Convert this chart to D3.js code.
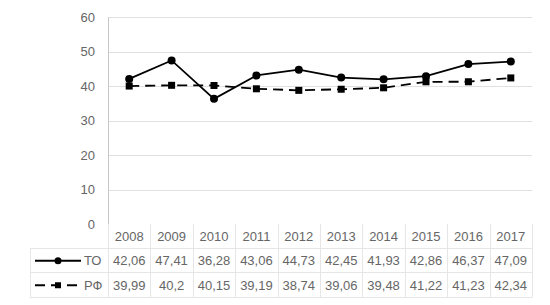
<!DOCTYPE html>
<html lang="ru">
<head>
<meta charset="UTF-8">
<title>ТО и РФ</title>
<script src="https://cdn.jsdelivr.net/npm/d3@7/dist/d3.min.js"></script>
<style>
    body { margin: 0; background: #fff; }
    text { font-family: "Liberation Sans", Arial, sans-serif; fill: #666; }
    .grid line { stroke: #e0e0e0; stroke-width: 1px; }
    .tbl line { stroke: #e6e6e6; stroke-width: 1px; }
</style>
</head>
<body>
<svg width="550" height="305"></svg>
<script>
    var years = ['2008', '2009', '2010', '2011', '2012', '2013', '2014', '2015', '2016', '2017'];
    var toValues = [42.06, 47.41, 36.28, 43.06, 44.73, 42.45, 41.93, 42.86, 46.37, 47.09];
    var rfValues = [39.99, 40.2, 40.15, 39.19, 38.74, 39.06, 39.48, 41.22, 41.23, 42.34];
    var seriesNames = ['ТО', 'РФ'];
    var yTicks = [0, 10, 20, 30, 40, 50, 60];

    var svg = d3.select('svg'),
        margin = { top: 17, left: 108, right: 18 },
        plotRight = 550 - margin.right,
        plotBottom = 224,
        tableLeft = 30,
        rowH = 24.5;

    var xScale = d3.scaleBand().domain(years).range([margin.left, plotRight]),
        yScale = d3.scaleLinear().domain([0, 60]).range([plotBottom, margin.top]);

    var fmt = function(v) { return String(v).replace('.', ','); };

    // gridlines
    svg.append('g').classed('grid', true)
        .selectAll('line').data(yTicks.filter(function(d) { return d > 0; }))
        .enter().append('line')
        .attr('x1', margin.left).attr('x2', plotRight)
        .attr('y1', function(d) { return Math.round(yScale(d)) + 0.5; })
        .attr('y2', function(d) { return Math.round(yScale(d)) + 0.5; });

    // y axis line
    svg.append('line')
        .attr('x1', margin.left + 0.5).attr('x2', margin.left + 0.5)
        .attr('y1', margin.top).attr('y2', plotBottom)
        .attr('stroke', '#c8c8c8');

    svg.append('g').selectAll('text').data(yTicks).enter().append('text')
        .attr('x', margin.left - 13)
        .attr('y', function(d) { return yScale(d); })
        .attr('dy', '0.35em')
        .attr('text-anchor', 'end')
        .style('font-size', '13px')
        .text(function(d) { return d; });

    // data table
    var tbl = svg.append('g').classed('tbl', true);
    var rowsY = [plotBottom, plotBottom + rowH, plotBottom + 2 * rowH, plotBottom + 3 * rowH];
    [1, 2, 3].forEach(function(i) {
        tbl.append('line')
            .attr('x1', tableLeft).attr('x2', plotRight)
            .attr('y1', Math.round(rowsY[i]) - 0.5).attr('y2', Math.round(rowsY[i]) - 0.5);
    });
    years.concat(['end']).forEach(function(y, i) {
        var x = i < years.length ? xScale(y) : plotRight;
        tbl.append('line')
            .attr('x1', Math.round(x) + 0.5).attr('x2', Math.round(x) + 0.5)
            .attr('y1', plotBottom).attr('y2', rowsY[3]);
    });
    tbl.append('line')
        .attr('x1', tableLeft + 0.5).attr('x2', tableLeft + 0.5)
        .attr('y1', rowsY[1]).attr('y2', rowsY[3]);

    var cellText = function(rowIdx, values) {
        svg.append('g').selectAll('text').data(values).enter().append('text')
            .attr('x', function(d, i) { return xScale(years[i]) + xScale.bandwidth() / 2; })
            .attr('y', rowsY[rowIdx] + rowH / 2)
            .attr('dy', '0.35em')
            .attr('text-anchor', 'middle')
            .style('font-size', '13px')
            .text(function(d) { return rowIdx === 0 ? d : fmt(d); });
    };
    cellText(0, years);
    cellText(1, toValues);
    cellText(2, rfValues);

    // lines
    var line = d3.line()
        .x(function(d, i) { return xScale(years[i]) + xScale.bandwidth() / 2; })
        .y(function(d) { return yScale(d); });

    svg.append('path').datum(rfValues)
        .attr('d', line)
        .attr('fill', 'none').attr('stroke', '#000').attr('stroke-width', 1.8)
        .attr('stroke-dasharray', '10,6');
    svg.append('path').datum(toValues)
        .attr('d', line)
        .attr('fill', 'none').attr('stroke', '#000').attr('stroke-width', 1.8);

    svg.append('g').selectAll('rect').data(rfValues).enter().append('rect')
        .attr('x', function(d, i) { return xScale(years[i]) + xScale.bandwidth() / 2 - 3.5; })
        .attr('y', function(d) { return yScale(d) - 3.5; })
        .attr('width', 7).attr('height', 7).attr('fill', '#000');
    svg.append('g').selectAll('circle').data(toValues).enter().append('circle')
        .attr('cx', function(d, i) { return xScale(years[i]) + xScale.bandwidth() / 2; })
        .attr('cy', function(d) { return yScale(d); })
        .attr('r', 4).attr('fill', '#000');

    // legend keys in table
    var keyY1 = rowsY[1] + rowH / 2, keyY2 = rowsY[2] + rowH / 2;
    svg.append('line').attr('x1', 35).attr('x2', 81).attr('y1', keyY1).attr('y2', keyY1)
        .attr('stroke', '#000').attr('stroke-width', 1.8);
    svg.append('circle').attr('cx', 58).attr('cy', keyY1).attr('r', 3.5).attr('fill', '#000');
    svg.append('line').attr('x1', 35).attr('x2', 81).attr('y1', keyY2).attr('y2', keyY2)
        .attr('stroke', '#000').attr('stroke-width', 1.8).attr('stroke-dasharray', '10,6');
    svg.append('rect').attr('x', 55).attr('y', keyY2 - 3).attr('width', 6).attr('height', 6).attr('fill', '#000');

    svg.append('g').selectAll('text').data(seriesNames).enter().append('text')
        .attr('x', 84)
        .attr('y', function(d, i) { return rowsY[i + 1] + rowH / 2; })
        .attr('dy', '0.35em')
        .style('font-size', '13px')
        .text(function(d) { return d; });
</script>
</body>
</html>
